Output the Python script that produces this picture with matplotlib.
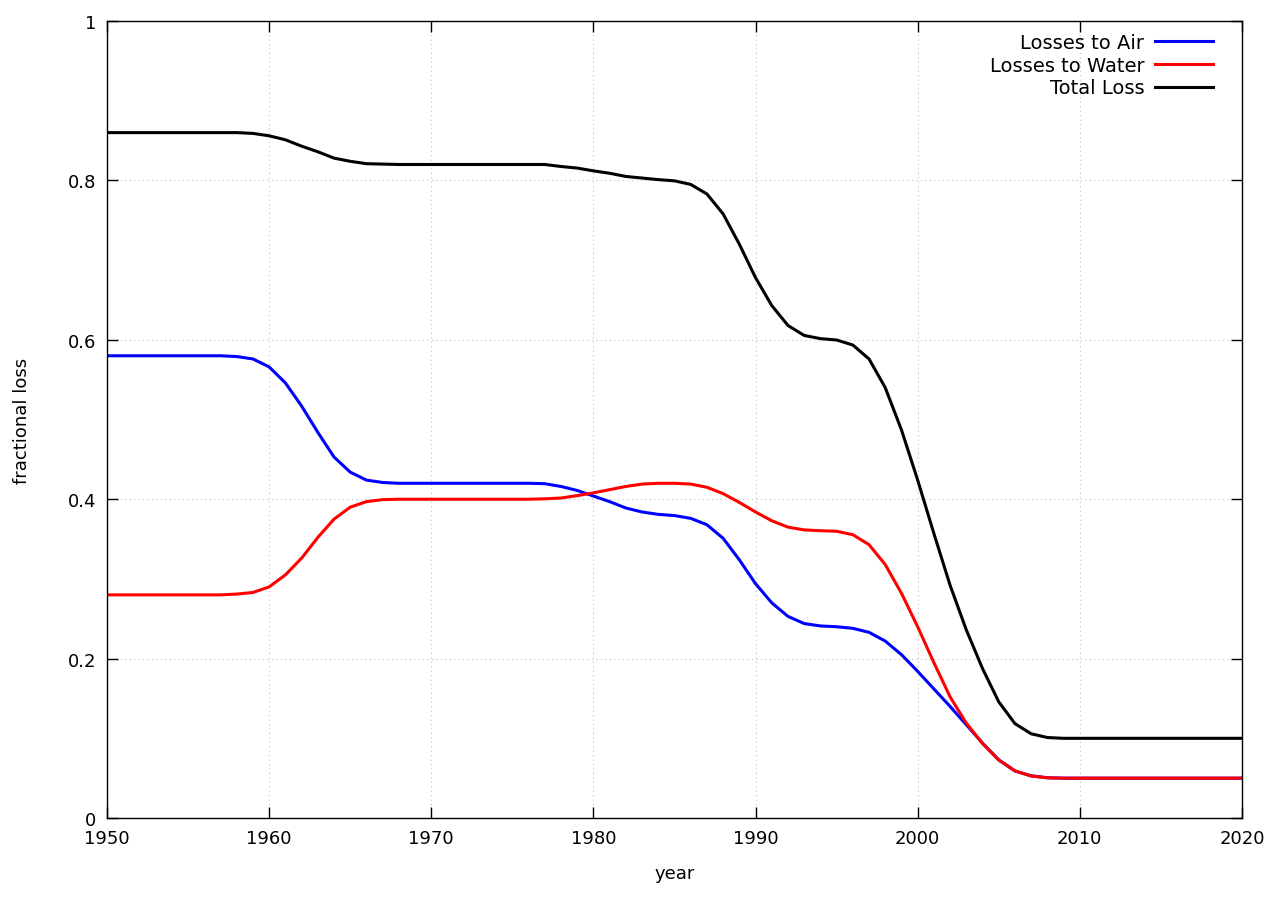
import numpy as np
import matplotlib
matplotlib.use("Agg")
import matplotlib.pyplot as plt
from matplotlib.ticker import FuncFormatter

years = list(range(1950, 2021))

air = ([0.58] * 8 +
       [0.579, 0.576, 0.566, 0.546, 0.517, 0.484, 0.453, 0.434, 0.424, 0.421] +
       [0.42] * 9 +
       [0.4195, 0.416, 0.411, 0.404, 0.397, 0.389, 0.384, 0.381, 0.3795, 0.376,
        0.368, 0.351, 0.324, 0.294, 0.270, 0.253, 0.244, 0.241, 0.240, 0.238,
        0.233, 0.222, 0.205, 0.184, 0.162, 0.140, 0.117, 0.094, 0.073, 0.059,
        0.053, 0.0505] +
       [0.05] * 12)

water = ([0.28] * 8 +
         [0.281, 0.283, 0.290, 0.305, 0.326, 0.352, 0.375, 0.390, 0.397, 0.3995] +
         [0.40] * 9 +
         [0.4005, 0.4015, 0.4045, 0.408, 0.412, 0.416, 0.419, 0.420, 0.420, 0.419,
          0.415, 0.407, 0.396, 0.384, 0.373, 0.365, 0.3615, 0.3605, 0.3598, 0.3555,
          0.343, 0.318, 0.282, 0.240, 0.195, 0.152, 0.119, 0.0935, 0.0728, 0.0592,
          0.0527, 0.0505] +
         [0.05] * 12)

total = ([0.86] * 9 +
         [0.859, 0.856, 0.851, 0.843, 0.836, 0.828, 0.824, 0.821, 0.8205] +
         [0.82] * 9 +
         [0.82, 0.8175, 0.8155, 0.812, 0.809, 0.805, 0.803, 0.801, 0.7995, 0.795,
          0.783, 0.758, 0.720, 0.678, 0.643, 0.618, 0.6055, 0.6015, 0.5998, 0.5935,
          0.576, 0.540, 0.487, 0.424, 0.357, 0.292, 0.236, 0.1875, 0.1458, 0.1184,
          0.1057, 0.101] +
         [0.10] * 12)

plt.rcParams["font.family"] = "DejaVu Sans"

fig = plt.figure(figsize=(12.83, 9.03), dpi=100)
ax = fig.add_axes([0.0834, 0.093, 0.8846, 0.8826])

ax.plot(years, air, color="#0000ff", lw=2.2, label="Losses to Air")
ax.plot(years, water, color="#ff0000", lw=2.2, label="Losses to Water")
ax.plot(years, total, color="black", lw=2.2, label="Total Loss")

ax.set_xlim(1950, 2020)
ax.set_ylim(0, 1)
ax.set_xticks(range(1950, 2021, 10))
ax.set_yticks(np.arange(0, 1.01, 0.2))
ax.yaxis.set_major_formatter(FuncFormatter(lambda v, p: "%g" % round(v, 2)))
ax.grid(True, color="#c0c0c0", linestyle=(0, (1, 3)), linewidth=0.8)
ax.tick_params(direction="in", top=True, right=True, length=8, width=1,
               labelsize=13, pad=8)
for s in ax.spines.values():
    s.set_linewidth(1)

ax.set_xlabel("year", fontsize=13, labelpad=12)
ax.set_ylabel("fractional loss", fontsize=13, labelpad=26)

ax.legend(loc="upper right", frameon=False, markerfirst=False, fontsize=14,
          handlelength=3.0, handletextpad=0.55, borderaxespad=0.2,
          labelspacing=0.2, bbox_to_anchor=(0.985, 1.0))

fig.savefig("out.png", dpi=100)
